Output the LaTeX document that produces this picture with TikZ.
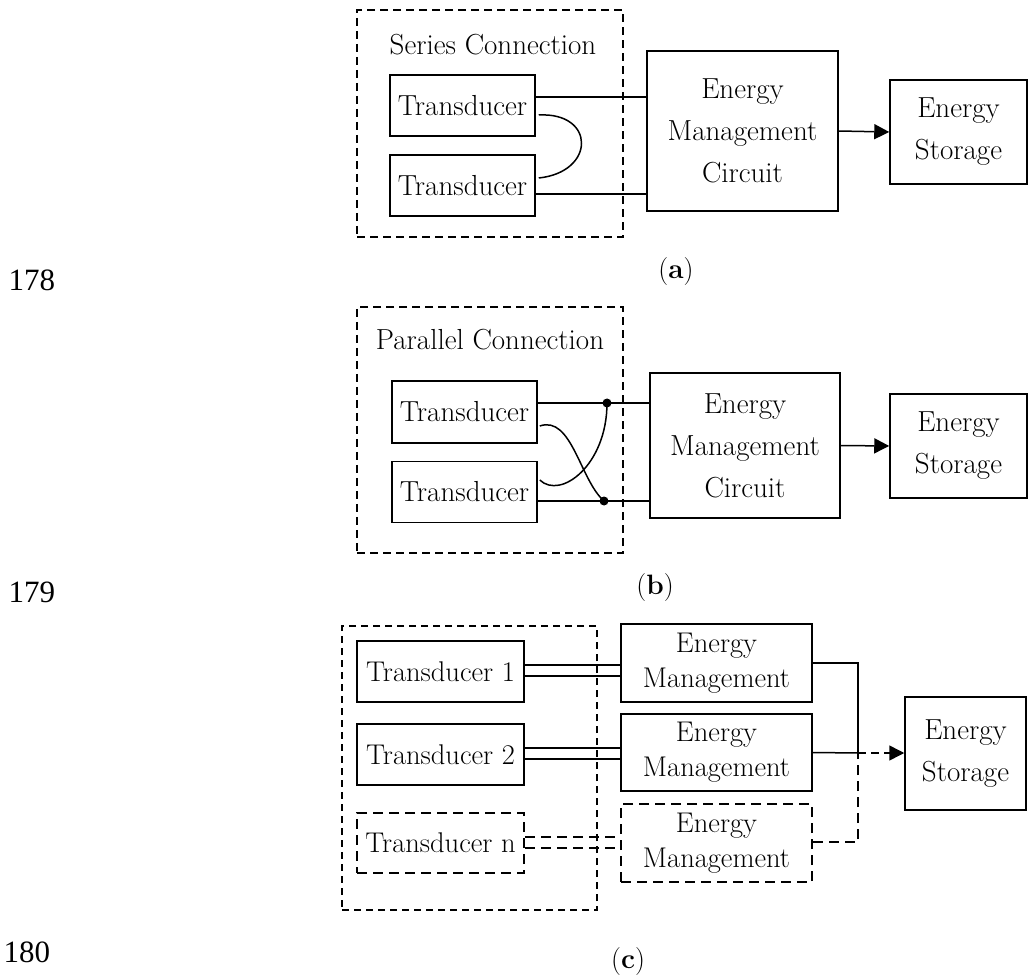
\documentclass[tikz,border=0pt]{standalone}
\usepackage{fontspec}
\newfontfamily\numfont{Liberation Serif}
\usetikzlibrary{arrows.meta,calc}
\begin{document}
\begin{tikzpicture}[x=1pt,y=-1pt,
  box/.style={draw,line width=1.5pt,inner sep=0pt,align=center,font=\fontsize{29}{42}\selectfont},
  boxc/.style={box,font=\fontsize{28.5}{35}\selectfont},
  dbox/.style={boxc,line width=2pt,dash pattern=on 10pt off 6pt},
  group/.style={draw,line width=1.4pt,dash pattern=on 8pt off 5pt,inner sep=0pt},
  wire/.style={line width=1.5pt},
  dwire/.style={line width=2pt,dash pattern=on 10pt off 6pt},
  arr/.style={line width=1.5pt,-{Triangle[length=15pt,width=15pt]}},
  txt/.style={inner sep=0pt,font=\fontsize{29}{32}\selectfont},
  sub/.style={inner sep=0pt,font=\fontsize{28}{30}\selectfont},
  num/.style={inner sep=0pt,font=\numfont\fontsize{31}{34}\selectfont},
  dot/.style={circle,fill,inner sep=0pt,minimum size=9pt}
]
\fill[white] (0,0) rectangle (1029,976);
\useasboundingbox (0,0) rectangle (1029,976);

% ---------- (a) ----------
\node[group,minimum width=266pt,minimum height=227pt] (sa) at (490,123.5) {};
\node[txt] (sal) at (493,45) {Series Connection};
\node[box,minimum width=145pt,minimum height=61pt] (ta1) at (462.5,105.5) {Transducer};
\node[box,minimum width=145pt,minimum height=61pt] (ta2) at (462.5,185.5) {Transducer};
\node[box,minimum width=191pt,minimum height=160pt] (emca) at (742.5,131) {Energy\\Management\\Circuit};
\node[box,minimum width=137pt,minimum height=104pt] (stora) at (958.5,132) {Energy\\Storage};
\draw[wire] ([yshift=8.5pt]ta1.east) -- ([yshift=8.5pt]ta1.east -| emca.west);
\draw[wire] ([yshift=-8.5pt]ta2.east) -- ([yshift=-8.5pt]ta2.east -| emca.west);
\draw[wire] ([xshift=3pt,yshift=-9.5pt]ta1.east) .. controls +(57,-3) and +(57,-6) .. ([xshift=3pt,yshift=7.5pt]ta2.east);
\draw[arr] (emca.east) -- (stora.west);
\node[sub] (la) at (676,272) {(\textbf{a})};
\node[num] (n178) at (32,280) {178};

% ---------- (b) ----------
\node[group,minimum width=266pt,minimum height=246pt] (sb) at (490,430) {};
\node[txt] (sbl) at (490,340) {Parallel Connection};
\node[box,minimum width=145pt,minimum height=62pt] (tb1) at (464.5,412) {Transducer};
\node[box,minimum width=145pt,minimum height=61pt] (tb2) at (464.5,492) {Transducer};
\node[box,minimum width=190pt,minimum height=145pt] (emcb) at (745,445.5) {Energy\\Management\\Circuit};
\node[box,minimum width=137pt,minimum height=104pt] (storb) at (958.5,446) {Energy\\Storage};
\node[dot] (d1) at (607,403) {};
\node[dot] (d2) at (604,501) {};
\draw[wire] ([yshift=9pt]tb1.east) -- (d1.center) -- (d1.center -| emcb.west);
\draw[wire] ([yshift=-9pt]tb2.east) -- (d2.center) -- (d2.center -| emcb.west);
\draw[wire] ([xshift=2pt,yshift=-14pt]tb1.east) .. controls +(32,-11) and +(-24,-21) .. (d2.center);
\draw[wire] ([xshift=2pt,yshift=12pt]tb2.east) .. controls +(21,20) and +(0,62) .. (d1.center);
\draw[arr] (emcb.east) -- (storb.west);
\node[sub] (lb) at (655,588) {(\textbf{b})};
\node[num] (n179) at (32,592) {179};

% ---------- (c) ----------
\node[group,line width=1.3pt,dash pattern=on 7pt off 5pt,minimum width=255pt,minimum height=284pt] (sc) at (469.5,768) {};
\node[boxc,minimum width=167pt,minimum height=61pt] (t1) at (440.5,671.5) {Transducer 1};
\node[boxc,minimum width=167pt,minimum height=61pt] (t2) at (440.5,754.5) {Transducer 2};
\node[dbox,minimum width=167pt,minimum height=60pt] (tn) at (440.5,843) {Transducer n};
\node[boxc,minimum width=191pt,minimum height=78pt] (em1) at (716.5,663) {Energy\\Management};
\node[boxc,minimum width=191pt,minimum height=77pt] (em2) at (716.5,752.5) {Energy\\Management};
\node[dbox,minimum width=191pt,minimum height=78pt] (em3) at (716.5,843) {Energy\\Management};
\node[box,minimum width=121pt,minimum height=113pt] (stc) at (965.5,753.5) {Energy\\Storage};
\draw[wire] ([yshift=6.5pt]t1.east) -- ([yshift=6.5pt]t1.east -| em1.west);
\draw[wire] ([yshift=-4.5pt]t1.east) -- ([yshift=-4.5pt]t1.east -| em1.west);
\draw[wire] ([yshift=6.5pt]t2.east) -- ([yshift=6.5pt]t2.east -| em2.west);
\draw[wire] ([yshift=-4.5pt]t2.east) -- ([yshift=-4.5pt]t2.east -| em2.west);
\draw[dwire] ([yshift=6pt]tn.east) -- ([yshift=6pt]tn.east -| em3.west);
\draw[dwire] ([yshift=-5pt]tn.east) -- ([yshift=-5pt]tn.east -| em3.west);
\coordinate (j) at (858,753);
\draw[wire] (em1.east) -| (j);
\draw[wire] (em2.east) -- (j);
\draw[dwire] ([yshift=1pt]em3.east) -| (j);
\draw[line width=1.5pt,dash pattern=on 8pt off 5pt] (j) -- ([xshift=-14pt]j -| stc.west);
\draw[arr] ([xshift=-16pt]j -| stc.west) -- (j -| stc.west);
\node[sub] (lc) at (628,962) {(\textbf{c})};
\node[num] (n180) at (27,952) {180};
\end{tikzpicture}
\end{document}
